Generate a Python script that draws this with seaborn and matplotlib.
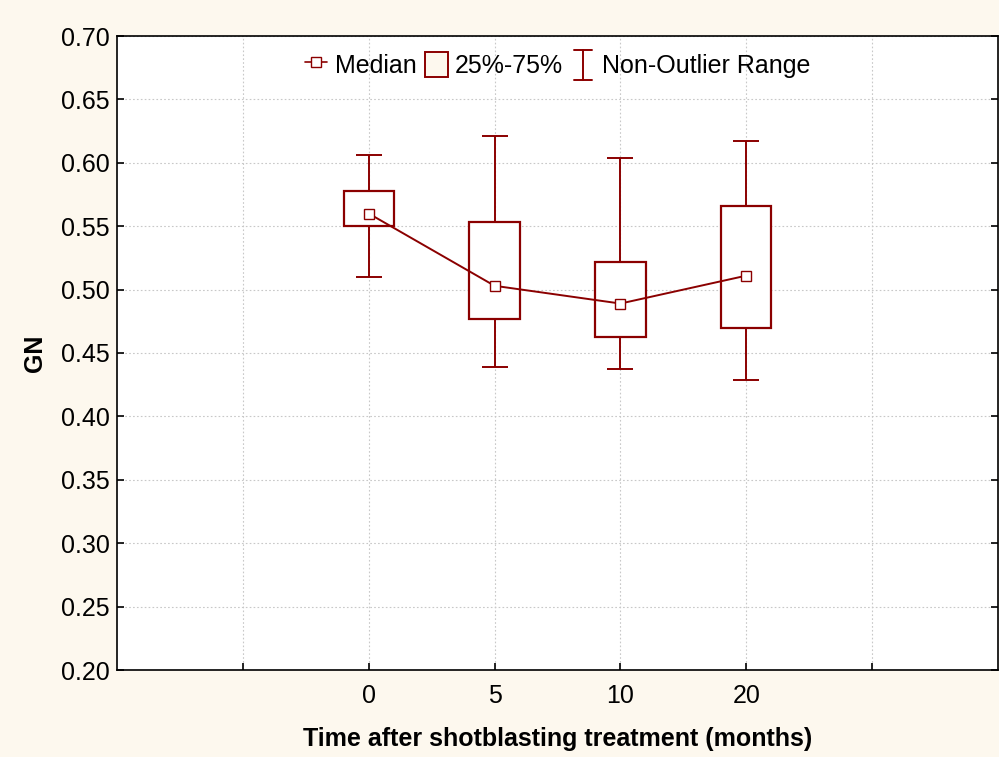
import numpy as np
import pandas as pd
import matplotlib
matplotlib.use("Agg")
import matplotlib.pyplot as plt
import seaborn as sns
from matplotlib.patches import Patch
from matplotlib.lines import Line2D
from matplotlib.legend_handler import HandlerBase

# ---- data ----
categories = ["0", "5", "10", "20"]
medians = [0.560, 0.503, 0.489, 0.511]
q1 = [0.550, 0.477, 0.463, 0.470]
q3 = [0.578, 0.553, 0.522, 0.566]
whisk_lo = [0.510, 0.439, 0.437, 0.429]
whisk_hi = [0.606, 0.621, 0.604, 0.617]
yticks = [0.20, 0.25, 0.30, 0.35, 0.40, 0.45, 0.50, 0.55, 0.60, 0.65, 0.70]

sns.set_style("white")
plt.rcParams["font.family"] = ["Liberation Sans", "DejaVu Sans"]
plt.rcParams["text.color"] = "black"
plt.rcParams["axes.labelcolor"] = "black"

RED = "#8B0000"
BG = "#FDF8EE"
FS = 18


class IHandler(HandlerBase):
    def create_artists(self, legend, orig_handle, xdescent, ydescent, width, height, fontsize, trans):
        cx = width / 2 - xdescent
        y0 = -ydescent - 0.1 * height
        y1 = height - ydescent + 0.05 * height
        w = 0.4 * width
        arts = [Line2D([cx, cx], [y0, y1]),
                Line2D([cx - w, cx + w], [y0, y0]),
                Line2D([cx - w, cx + w], [y1, y1])]
        for a in arts:
            a.set_color(RED)
            a.set_linewidth(1.4)
            a.set_transform(trans)
        return arts


fig = plt.figure(figsize=(9.99, 7.57), dpi=100, facecolor=BG)
ax = fig.add_axes([117 / 999, 1 - 670 / 757, 881 / 999, 634 / 757])
ax.set_facecolor("white")

positions = np.arange(len(categories)) + 2

# whiskers with caps
eb = ax.errorbar(positions, medians,
                 yerr=[np.array(medians) - np.array(whisk_lo), np.array(whisk_hi) - np.array(medians)],
                 fmt="none", ecolor=RED, elinewidth=1.4, capsize=9.5, capthick=1.4, zorder=2,
                 label="Non-Outlier Range")

# boxes
stats = []
for i in range(len(categories)):
    stats.append(dict(med=medians[i], q1=q1[i], q3=q3[i], whislo=q1[i], whishi=q3[i],
                      fliers=[], label=categories[i]))
ax.bxp(stats, positions=positions, widths=0.4, showcaps=False, patch_artist=True,
       boxprops=dict(facecolor="white", edgecolor=RED, linewidth=1.6),
       medianprops=dict(linewidth=0), whiskerprops=dict(linewidth=0), zorder=3)

# median line with markers
df = pd.DataFrame({"x": positions, "median": medians})
sns.lineplot(data=df, x="x", y="median", ax=ax, color=RED, linewidth=1.4, marker="s",
             markersize=7.5, markerfacecolor="white", markeredgecolor=RED, markeredgewidth=1.0,
             zorder=4, legend=False)

ax.set_xlim(0, 7)
ax.set_ylim(0.20, 0.70)
ax.set_xticks(np.arange(1, 7))
ax.set_xticklabels([""] + categories + [""])
ax.set_yticks(yticks)
ax.set_yticklabels([f"{v:.2f}" for v in yticks])
ax.grid(True, color="#c8c8c8", linestyle=(0, (1.5, 2)), linewidth=0.8)
ax.set_axisbelow(True)
for s in ax.spines.values():
    s.set_color("black")
    s.set_linewidth(1.2)
ax.tick_params(axis="both", direction="in", length=5, width=1.2, labelsize=FS, colors="black")
ax.tick_params(axis="y", right=True, left=True, pad=5)
ax.tick_params(axis="x", bottom=True, pad=10)
ax.set_xlabel("Time after shotblasting treatment (months)", fontsize=FS, fontweight="bold", labelpad=14)
ax.set_ylabel("GN", fontsize=FS, fontweight="bold", labelpad=10)

handles = [
    Line2D([0], [0], color=RED, lw=1.2, marker="s", markersize=7, markerfacecolor="white",
           markeredgecolor=RED),
    Patch(facecolor=BG, edgecolor=RED, linewidth=1.4),
    eb,
]
leg = ax.legend(handles, ["Median", "25%-75%", "Non-Outlier Range"], loc="upper center",
                ncol=3, frameon=False, fontsize=FS, handlelength=0.9, handletextpad=0.3,
                columnspacing=0.35, bbox_to_anchor=(0.5, 1.0), borderaxespad=0.22,
                handleheight=1.2, handler_map={eb: IHandler()})

fig.savefig("out.png", dpi=100, facecolor=BG)
